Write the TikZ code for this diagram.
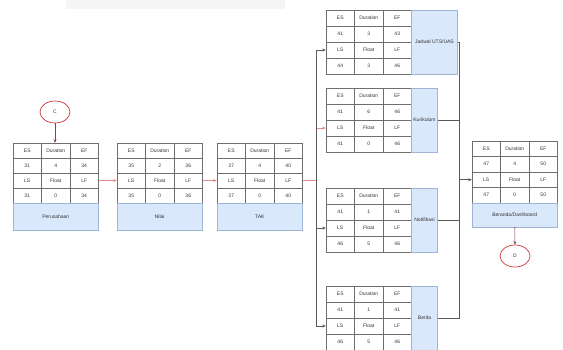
\documentclass[tikz,border=0pt]{standalone}
\usepackage{fontspec}
\setmainfont{Liberation Sans}
\usetikzlibrary{shapes.geometric,arrows.meta}
\definecolor{bluefill}{HTML}{DAE8FC}
\definecolor{blueline}{HTML}{9DB4D4}
\definecolor{critred}{HTML}{E58A8A}
\definecolor{lineg}{HTML}{5A5A5A}
\definecolor{txt}{HTML}{333333}
\definecolor{cellline}{HTML}{6E6E6E}
\definecolor{ellred}{HTML}{C83838}
\definecolor{bandgray}{HTML}{F5F5F5}
\def\cw{28.5}
\def\tw{85.5}
\tikzset{
  cell/.style={draw=cellline, line width=0.45pt, minimum width=\cw pt, inner sep=0pt,
    font=\fontsize{5}{6}\selectfont, text=txt},
  lab/.style={draw=blueline, fill=bluefill, line width=0.4pt, inner sep=0pt,
    font=\fontsize{5}{6}\selectfont, text=txt},
  ell/.style={ellipse, draw=ellred, line width=0.7pt, minimum width=30pt, minimum height=22pt,
    inner sep=0pt, font=\fontsize{5}{6}\selectfont, text=txt},
  conR/.style={draw=critred, line width=0.55pt, -{Stealth[length=3.5pt,width=3pt]}},
  conK/.style={draw=lineg, line width=0.55pt, -{Stealth[length=3.5pt,width=3pt]}},
  conC/.style={draw=lineg!80!red, line width=0.55pt, -{Stealth[length=3.5pt,width=3pt]}},
}
\newcommand\pertgrid[6]{%
  \foreach \vv [count=\i] in {ES,Duration,EF}
    {\node[cell, minimum height=#4pt] (#1-1-\i) at ({#2+(\i-0.5)*\cw},{#3+0.5*#4}) {\vv};}
  \foreach \vv [count=\i] in {#5}
    {\node[cell, minimum height=#4pt] (#1-2-\i) at ({#2+(\i-0.5)*\cw},{#3+1.5*#4}) {\vv};}
  \foreach \vv [count=\i] in {LS,Float,LF}
    {\node[cell, minimum height=#4pt] (#1-3-\i) at ({#2+(\i-0.5)*\cw},{#3+2.5*#4}) {\vv};}
  \foreach \vv [count=\i] in {#6}
    {\node[cell, minimum height=#4pt] (#1-4-\i) at ({#2+(\i-0.5)*\cw},{#3+3.5*#4}) {\vv};}
}
\newcommand\pertB[8]{%
  \pertgrid{#1}{#2}{#3}{#4}{#5}{#6}
  \node[lab, minimum width=\tw pt, minimum height=#8pt] (#1-lab) at ({#2+0.5*\tw},{#3+4*#4+0.5*#8}) {#7};
}
\newcommand\pertS[8]{%
  \pertgrid{#1}{#2}{#3}{#4}{#5}{#6}
  \node[lab, minimum width=#8pt, minimum height={4*#4pt}] (#1-lab) at ({#2+\tw+0.5*#8},{#3+2*#4}) {#7};
}
\begin{document}
\begin{tikzpicture}[x=1pt,y=-1pt]
\useasboundingbox (0,0) rectangle (563,350);
\fill[bandgray] (66,0) rectangle (285,9);

\pertB{per}{13}{143}{15}{31,4,34}{31,0,34}{Perusahaan}{27}
\pertB{nil}{117}{143}{15}{35,2,36}{35,0,36}{Nilai}{27}
\pertB{tak}{217}{143}{15}{37,4,40}{37,0,40}{TAK}{27}
\pertB{ber}{472}{141}{15.5}{47,4,50}{47,0,50}{Beranda/Dashboard}{24}
\pertS{jad}{326}{10}{16}{41,3,43}{44,3,46}{Jadwal UTS/UAS}{46}
\pertS{kur}{326}{88}{16}{41,6,46}{41,0,46}{Kurikulum}{26}
\pertS{ntf}{326}{188}{16}{41,1,41}{46,5,46}{Notifikasi}{26}
\pertS{brt}{326}{286}{16}{41,1,41}{46,5,46}{Berita}{26}

\node[ell] (c) at (55,112) {C};
\node[ell] (d) at (515,256) {D};

\draw[conC] (c.south) -- (c.south |- per-1-2.north);
\draw[conC] (ber-lab.south) -- (d.north);

\draw[conR] (per-3-3.east) -- (nil-3-1.west);
\draw[conR] (nil-3-3.east) -- (tak-3-1.west);

\path (tak-3-3.east) ++(14,0) coordinate (lb);
\draw[conR] (tak-3-3.east) -- (lb) |- (kur-3-1.west);
\draw[conK] (lb) |- (jad-3-1.west);
\draw[conK] (lb) |- (ntf-3-1.west);
\draw[conK] (lb) |- (brt-3-1.west);

\path (ber-3-1.west) ++(-13,0) coordinate (rb);
\draw[draw=lineg, line width=0.55pt] (kur-lab.east) -| (rb);
\draw[draw=lineg, line width=0.55pt] (ntf-lab.east) -| (rb);
\draw[draw=lineg, line width=0.55pt] (brt-lab.east) -| (rb);
\draw[conK] (jad-lab.east) -| (rb) -- (ber-3-1.west);
\end{tikzpicture}
\end{document}
